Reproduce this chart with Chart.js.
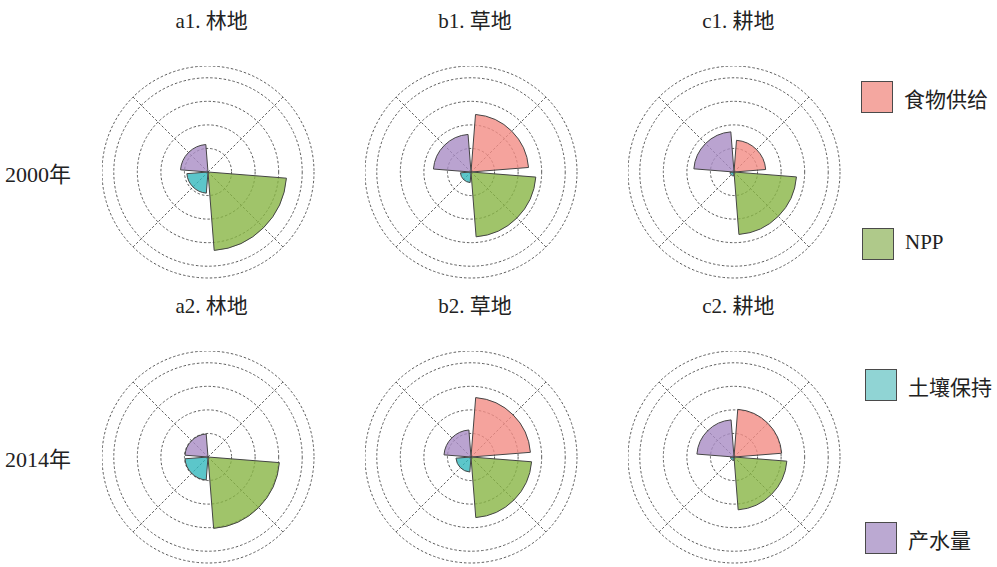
<!DOCTYPE html>
<html lang="zh">
<head>
<meta charset="utf-8">
<script src="https://cdn.jsdelivr.net/npm/chart.js@4/dist/chart.umd.min.js"></script>
<style>
  body { margin: 0; background: #fff; }
  #page {
    position: relative;
    width: 997px;
    height: 567px;
    font-family: "Liberation Serif", "Noto Sans CJK SC", serif;
    color: #222;
  }
  .panel { position: absolute; width: 213px; height: 213px; }
  .title { position: absolute; font-size: 21px; transform: translateX(-50%); white-space: nowrap; }
  .rowlabel { position: absolute; font-size: 22px; }
  .key { position: absolute; width: 32px; height: 32px; border: 1.5px solid #4a4a4a; box-sizing: border-box; }
  .keytext { position: absolute; font-size: 21px; white-space: nowrap; }
</style>
</head>
<body>
<div id="page"></div>

<script>
// ==========================
// DATA
// ==========================
const categories = ["食物供给", "NPP", "土壤保持", "产水量"];
const years = ["2000年", "2014年"];
const landTypes = ["林地", "草地", "耕地"];
const panelTitles = [
  ["a1. 林地", "b1. 草地", "c1. 耕地"],
  ["a2. 林地", "b2. 草地", "c2. 耕地"]
];

// 食物供给, NPP, 土壤保持, 产水量
const forest2000 = [0, 3.34, 0.90, 1.17];
const grass2000  = [2.45, 2.76, 0.45, 1.60];
const crop2000   = [1.35, 2.66, 0.17, 1.71];
const forest2014 = [0, 3.04, 0.98, 0.98];
const grass2014  = [2.53, 2.58, 0.64, 1.15];
const crop2014   = [2.03, 2.25, 0.15, 1.58];

const panelValues = [
  [forest2000, grass2000, crop2000],
  [forest2014, grass2014, crop2014]
];

// grid rings (radial values)
const ringValues = [0, 1, 2, 3, 4, 4.5];
const rMax = 4.5;

// ==========================
// STYLE
// ==========================
const fillColors = [
  "rgba(243,140,133,0.8)",
  "rgba(136,181,69,0.8)",
  "rgba(51,184,189,0.8)",
  "rgba(169,140,196,0.8)"
];
const keyColors = ["#f4a7a0", "#afc98a", "#90d4d4", "#bba9d2"];
const gridColor = "#4a4a4a";
const gridDash = [2.5, 2];

const colX = [207.7, 471, 734.3];
const rowY = [171.7, 457];
const half = 106;
const gapDeg = 4.5; // 每个扇形两侧留空

// ==========================
// PLUGINS
// ==========================
const diagonalLines = {
  id: "diagonalLines",
  beforeDatasetsDraw(chart) {
    const s = chart.scales.r;
    const ctx = chart.ctx;
    const len = s.getDistanceFromCenterForValue(rMax);
    ctx.save();
    ctx.strokeStyle = gridColor;
    ctx.lineWidth = 0.9;
    ctx.setLineDash(gridDash);
    [45, 135, 225, 315].forEach(deg => {
      const a = (deg - 90) * Math.PI / 180;
      ctx.beginPath();
      ctx.moveTo(s.xCenter, s.yCenter);
      ctx.lineTo(s.xCenter + len * Math.cos(a), s.yCenter + len * Math.sin(a));
      ctx.stroke();
    });
    ctx.restore();
  }
};

const wedgeGaps = {
  id: "wedgeGaps",
  afterDatasetsUpdate(chart) {
    const g = gapDeg * Math.PI / 180;
    chart.getDatasetMeta(0).data.forEach(arc => {
      arc.startAngle += g;
      arc.endAngle -= g;
      arc.circumference = arc.endAngle - arc.startAngle;
    });
  }
};

// ==========================
// BUILD
// ==========================
const page = document.getElementById("page");

function addText(cls, text, x, y) {
  const el = document.createElement("div");
  el.className = cls;
  el.textContent = text;
  el.style.left = x + "px";
  el.style.top = y + "px";
  page.appendChild(el);
  return el;
}

years.forEach((yr, r) => {
  addText("rowlabel", yr, 5, rowY[r] - 16);

  landTypes.forEach((lt, c) => {
    addText("title", panelTitles[r][c], colX[c] + 4, rowY[r] - 168);

    const box = document.createElement("div");
    box.className = "panel";
    box.style.left = (colX[c] - half) + "px";
    box.style.top = (rowY[r] - half) + "px";
    const canvas = document.createElement("canvas");
    canvas.width = 213;
    canvas.height = 213;
    box.appendChild(canvas);
    page.appendChild(box);

    new Chart(canvas, {
      type: "polarArea",
      data: {
        labels: categories,
        datasets: [{
          data: panelValues[r][c],
          backgroundColor: fillColors,
          borderColor: "#444",
          borderWidth: 1
        }]
      },
      options: {
        responsive: false,
        animation: false,
        layout: { padding: 0 },
        plugins: {
          legend: { display: false },
          tooltip: { enabled: false }
        },
        scales: {
          r: {
            min: 0,
            max: rMax,
            afterBuildTicks: s => { s.ticks = ringValues.map(v => ({ value: v })); },
            ticks: { display: false },
            grid: { color: gridColor, lineWidth: 0.9 },
            border: { dash: gridDash },
            angleLines: { display: false },
            pointLabels: { display: false }
          }
        }
      },
      plugins: [diagonalLines, wedgeGaps]
    });
  });
});

// ==========================
// LEGEND
// ==========================
const keyPos = [[861, 81], [862, 228], [865, 369], [865, 522]];
categories.forEach((name, i) => {
  const sq = document.createElement("div");
  sq.className = "key";
  sq.style.left = keyPos[i][0] + "px";
  sq.style.top = keyPos[i][1] + "px";
  sq.style.background = keyColors[i];
  page.appendChild(sq);
  addText("keytext", name, keyPos[i][0] + 43, keyPos[i][1] + 2);
});
</script>
</body>
</html>
